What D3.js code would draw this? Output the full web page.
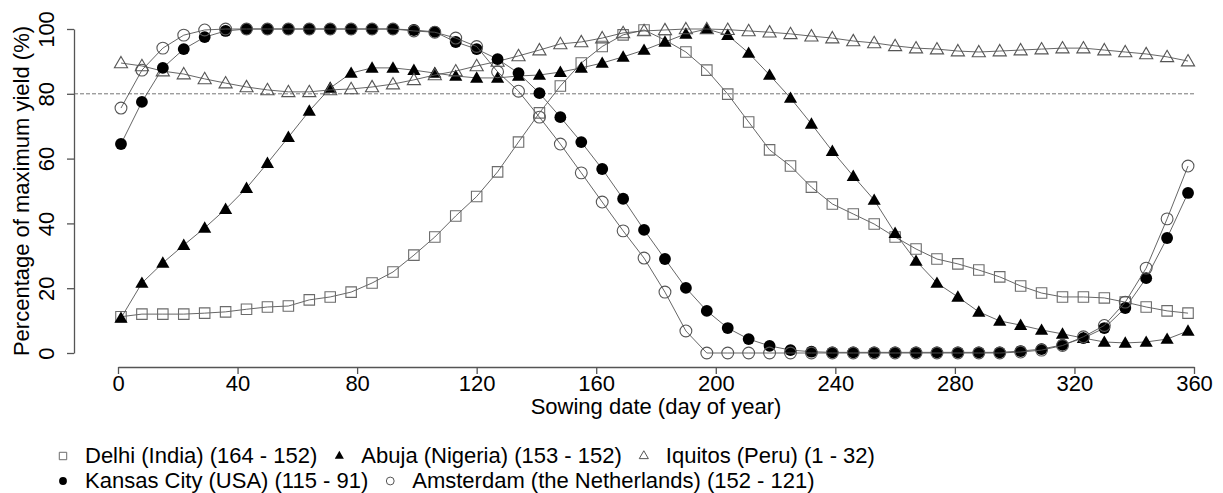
<!DOCTYPE html>
<html>
<head>
<meta charset="UTF-8">
<title>Sowing date yield</title>
<script src="https://d3js.org/d3.v7.min.js"></script>
<style>
  body { margin: 0; background: #fff; }
  svg { font-family: "Liberation Sans", Arial, sans-serif; }
</style>
</head>
<body>
<svg id="chart" width="1223" height="493"></svg>
<script>
// sowing days (every 7 days starting at day 1)
const days = d3.range(52).map(i => 1 + 7 * i);

const delhi = [11.2, 12, 12, 12, 12.3, 12.7, 13.5, 14.2, 14.5, 16.4,
  17.3, 18.8, 21.6, 25, 30.2, 35.8, 42.3, 48.3, 55.9, 65.1,
  74.1, 82.4, 89.5, 94.6, 98.2, 99.7, 96.6, 92.9, 87.3, 79.9,
  71.3, 62.7, 57.7, 51.2, 46, 42.9, 39.8, 35.8, 32.1, 29,
  27.5, 25.6, 23.5, 20.7, 18.5, 17.3, 17.3, 17, 15.7, 14.2,
  13, 12.3];
const abuja = [10.8, 21.6, 27.8, 33.3, 38.6, 44.4, 50.9, 58.6, 66.6, 74.7,
  81.8, 86.4, 88, 88, 87.3, 86.4, 85.5, 84.9, 84.9, 85.5,
  85.8, 86.7, 88, 89.5, 91.4, 93.5, 96, 98.5, 100, 98.1,
  92.6, 85.8, 78.7, 70.7, 62.3, 54.6, 47.2, 37, 28.4, 21.6,
  17.3, 12.7, 9.9, 8.6, 7.1, 5.9, 4.6, 3.4, 3.1, 3.4,
  4.3, 6.8];
const iquitos = [89.5, 88.6, 87, 86.1, 84.6, 83.3, 82.1, 81.2, 80.6, 80.6,
  81.2, 81.5, 82.1, 83, 84.3, 85.8, 87, 88.6, 90, 91.7,
  93.5, 95.4, 96, 97.2, 98.8, 99.4, 99.7, 100, 100, 99.8,
  99.4, 99, 98.5, 97.8, 97.2, 96.3, 95.7, 94.8, 94.1, 93.8,
  93.2, 92.9, 93.2, 93.5, 93.8, 94.1, 94.1, 93.5, 92.9, 92.3,
  91.4, 90.1];
const kansas = [64.5, 77.5, 88, 93.8, 97.5, 99.4, 100, 100, 100, 100,
  100, 100, 100, 100, 99.7, 99.1, 96, 93.8, 90.7, 86.4,
  80.2, 72.8, 65.1, 56.8, 47.6, 38, 29, 20.1, 13, 7.7,
  4.3, 2.2, 0.9, 0.4, 0.2, 0.2, 0.2, 0.2, 0.2, 0.2,
  0.2, 0.2, 0.2, 0.6, 1.2, 2.5, 4.6, 7.7, 13.9, 23.1,
  35.5, 49.4];
const amsterdam = [75.6, 87.3, 94.1, 98.1, 99.7, 100, 100, 100, 100, 100,
  100, 100, 100, 100, 99.4, 99, 97.2, 94.6, 86.8, 80.8,
  72.8, 64.5, 55.6, 46.6, 37.7, 29.3, 18.8, 6.8, 0, 0,
  0, 0, 0, 0, 0, 0, 0, 0, 0, 0,
  0, 0, 0, 0.3, 0.9, 2.3, 5, 8.5, 15.7, 26.2,
  41.4, 57.7];

const seriesNames = ["Delhi (India) (164 - 152)", "Abuja (Nigeria) (153 - 152)", "Iquitos (Peru) (1 - 32)",
  "Kansas City (USA) (115 - 91)", "Amsterdam (the Netherlands) (152 - 121)"];
const xTicks = [0, 40, 80, 120, 160, 200, 240, 280, 320, 360];
const yTicks = [0, 20, 40, 60, 80, 100];
const refLine = 80;

const series = [
  { name: seriesNames[0], values: delhi, shape: "square", filled: false, stroke: "#6b6b6b" },
  { name: seriesNames[1], values: abuja, shape: "triangle", filled: true, stroke: "#000" },
  { name: seriesNames[2], values: iquitos, shape: "triangle", filled: false, stroke: "#555" },
  { name: seriesNames[3], values: kansas, shape: "circle", filled: true, stroke: "#000" },
  { name: seriesNames[4], values: amsterdam, shape: "circle", filled: false, stroke: "#555" }
];

const svg = d3.select("#chart");
const x = d3.scaleLinear().domain([0, 360]).range([118, 1194]);
const y = d3.scaleLinear().domain([0, 100]).range([353, 29]);

// axes
const yAxis = svg.append("g")
  .attr("transform", "translate(74,0)")
  .call(d3.axisLeft(y).tickValues(yTicks).tickSize(7).tickSizeOuter(0));
yAxis.selectAll("text")
  .attr("transform", "rotate(-90)")
  .attr("x", 0).attr("y", -20).attr("dy", 0)
  .attr("text-anchor", "middle");

const xAxis = svg.append("g")
  .attr("transform", "translate(0,367)")
  .call(d3.axisBottom(x).tickValues(xTicks).tickSize(7).tickSizeOuter(0));
xAxis.selectAll("text").attr("y", 24).attr("dy", 0);

svg.selectAll(".domain, .tick line").attr("stroke", "#555").attr("stroke-width", 1.3);
svg.selectAll(".tick text").attr("fill", "#000").style("font-size", "22px")
  .style("font-family", "'Liberation Sans', Arial, sans-serif");

svg.append("text")
  .attr("x", 656).attr("y", 414)
  .attr("text-anchor", "middle")
  .style("font-size", "22px")
  .text("Sowing date (day of year)");

svg.append("text")
  .attr("transform", "translate(29,191) rotate(-90)")
  .attr("text-anchor", "middle")
  .style("font-size", "22px")
  .text("Percentage of maximum yield (%)");

// 80% reference
svg.append("line")
  .attr("x1", 74).attr("x2", x(360))
  .attr("y1", y(refLine)).attr("y2", y(refLine))
  .attr("stroke", "#666").attr("stroke-width", 0.9)
  .attr("stroke-dasharray", "4,2");

const symbolPath = {
  square: d3.symbol(d3.symbolSquare, 110)(),
  triangle: d3.symbol(d3.symbolTriangle, 75)(),
  circle: d3.symbol(d3.symbolCircle, 110)()
};

const line = d3.line().x((d, i) => x(days[i])).y(d => y(d));

series.forEach(s => {
  const g = svg.append("g");
  g.append("path")
    .attr("d", line(s.values))
    .attr("fill", "none")
    .attr("stroke", "#555")
    .attr("stroke-width", 0.9);
  g.selectAll("path.pt").data(s.values).join("path")
    .attr("class", "pt")
    .attr("d", symbolPath[s.shape])
    .attr("transform", (d, i) => `translate(${x(days[i])},${y(d) + (s.shape === "triangle" ? 1 : 0)})`)
    .attr("fill", s.filled ? "#000" : "none")
    .attr("stroke", s.stroke)
    .attr("stroke-width", s.filled ? 0 : 1.1);
});

// legend
const legendSym = {
  square: d3.symbol(d3.symbolSquare, 55)(),
  triangle: d3.symbol(d3.symbolTriangle, 36)(),
  circle: d3.symbol(d3.symbolCircle, 48)()
};
const legendRows = [[0, 1, 2], [3, 4]];
const rowY = [463, 488];
legendRows.forEach((row, r) => {
  let cx = 63;
  row.forEach(k => {
    const s = series[k];
    svg.append("path")
      .attr("d", legendSym[s.shape])
      .attr("transform", `translate(${cx},${rowY[r] - 7})`)
      .attr("fill", s.filled ? "#000" : "none")
      .attr("stroke", s.filled ? "none" : s.stroke)
      .attr("stroke-width", 1);
    const t = svg.append("text")
      .attr("x", cx + 22).attr("y", rowY[r])
      .style("font-size", "22px")
      .text(s.name);
    cx = cx + 22 + t.node().getComputedTextLength() + 22;
  });
});
</script>
</body>
</html>
